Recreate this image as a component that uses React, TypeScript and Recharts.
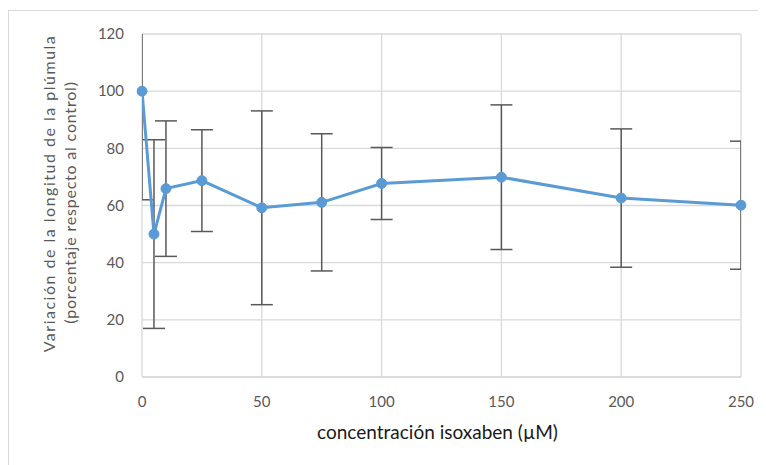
import React from "react";
import {
  LineChart,
  Line,
  XAxis,
  YAxis,
  CartesianGrid,
  ErrorBar,
  Label,
} from "recharts";

// isoxaben concentration (µM)
const concentrations = [0, 5, 10, 25, 50, 75, 100, 150, 200, 250];
// plumule length, % of control
const means = [100, 50, 65.9, 68.7, 59.2, 61.1, 67.7, 69.9, 62.6, 60.1];
// error bar half-length
const errors = [38, 33, 23.7, 17.8, 33.9, 24, 12.6, 25.3, 24.2, 22.4];

const xTicks = [0, 50, 100, 150, 200, 250];
const yTicks = [0, 20, 40, 60, 80, 100, 120];

const data = concentrations.map((c, i) => ({
  conc: c,
  value: means[i],
  err: errors[i],
}));

const FONT = "Lato, 'Open Sans', sans-serif";
const GRAY = "#595959";

const W = 758;
const H = 457;
const M = { top: 26, right: 25, bottom: 58, left: 74 };
const Y_W = 60;
const X_H = 30;

const YTitle = (props: any) => {
  const { viewBox } = props;
  const cy = viewBox.y + viewBox.height / 2;
  return (
    <g fill={GRAY} fontFamily={FONT} fontSize={16} textAnchor="middle">
      <text
        transform={`translate(41, ${cy - 12}) rotate(-90)`}
        dy="0.35em"
        letterSpacing={1.5}
      >
        Variación de la longitud de la plúmula
      </text>
      <text
        transform={`translate(62, ${cy - 3}) rotate(-90)`}
        dy="0.35em"
        letterSpacing={0.8}
      >
        (porcentaje respecto al control)
      </text>
    </g>
  );
};

const XTitle = (props: any) => {
  const { viewBox } = props;
  const cx = viewBox.x + viewBox.width / 2 - 4;
  return (
    <text
      x={cx}
      y={viewBox.y + viewBox.height + 32}
      textAnchor="middle"
      fill="#1a1a1a"
      fontSize={19}
      fontFamily={FONT}
    >
      concentración isoxaben (µM)
    </text>
  );
};

export default function App() {
  const plotX = M.left + Y_W;
  const plotY = M.top;
  const plotW = W - M.right - plotX;
  const plotH = H - M.bottom - X_H - M.top;
  return (
    <div
      style={{
        position: "relative",
        width: W,
        height: H,
        overflow: "hidden",
      }}
    >
      <style>{`.recharts-errorBar { clip-path: url(#plotClip); }`}</style>
      <svg width={0} height={0} style={{ position: "absolute" }}>
        <defs>
          <clipPath id="plotClip" clipPathUnits="userSpaceOnUse">
            <rect x={plotX} y={plotY} width={plotW} height={plotH} />
          </clipPath>
        </defs>
      </svg>
      <div
        style={{
          position: "absolute",
          left: 0,
          top: 2,
          width: 800,
          height: 500,
          border: "1px solid #d9d9d9",
        }}
      />
      <LineChart
        width={W}
        height={H}
        data={data}
        margin={M}
        style={{ position: "absolute", left: 0, top: 0 }}
      >
        <CartesianGrid stroke="#d9d9d9" strokeWidth={1.3} />
        <XAxis
          dataKey="conc"
          type="number"
          domain={[0, 250]}
          ticks={xTicks}
          allowDataOverflow
          height={X_H}
          axisLine={{ stroke: "#d9d9d9", strokeWidth: 1.3 }}
          tickLine={false}
          tickSize={0}
          tickMargin={19}
          tick={{ fill: GRAY, fontSize: 15, fontFamily: FONT }}
        >
          <Label content={<XTitle />} />
        </XAxis>
        <YAxis
          type="number"
          domain={[0, 120]}
          ticks={yTicks}
          allowDataOverflow
          width={Y_W}
          axisLine={false}
          tickLine={false}
          tickSize={0}
          tickMargin={18}
          tick={{ fill: GRAY, fontSize: 15, fontFamily: FONT }}
        >
          <Label content={<YTitle />} />
        </YAxis>
        <Line
          dataKey="value"
          stroke="#5b9bd5"
          strokeWidth={3}
          dot={{ r: 5, fill: "#5b9bd5", stroke: "#5b9bd5", strokeWidth: 1, clipDot: false }}
          activeDot={false}
          isAnimationActive={false}
        >
          <ErrorBar
            dataKey="err"
            direction="y"
            width={11}
            stroke={GRAY}
            strokeWidth={1.5}
          />
        </Line>
      </LineChart>
    </div>
  );
}
